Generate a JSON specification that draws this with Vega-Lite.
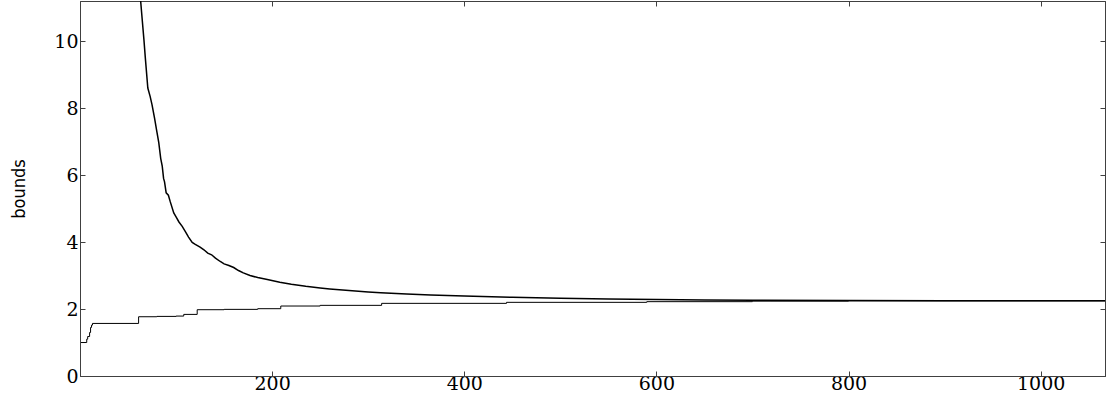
{
  "$schema": "https://vega.github.io/schema/vega-lite/v6.json",
  "width": 1025,
  "height": 375,
  "autosize": {"type": "none"},
  "padding": {"left": 80, "top": 1, "right": 1, "bottom": 24},
  "background": "white",
  "config": {
    "view": {"stroke": "#404040", "strokeWidth": 1},
    "axis": {
      "grid": false,
      "domainColor": "#404040",
      "tickColor": "#404040",
      "tickSize": -5
    }
  },
  "datasets": {
    "upper": [
      {"x": 62, "y": 11.6}, {"x": 64, "y": 10.9}, {"x": 66.5, "y": 10.06}, {"x": 68, "y": 9.5},
      {"x": 70.6, "y": 8.6}, {"x": 73, "y": 8.35}, {"x": 75, "y": 8.1}, {"x": 77.6, "y": 7.7},
      {"x": 80, "y": 7.3}, {"x": 82, "y": 6.97}, {"x": 84, "y": 6.5}, {"x": 85.6, "y": 6.27},
      {"x": 87, "y": 5.9}, {"x": 88, "y": 5.8}, {"x": 89.7, "y": 5.47}, {"x": 92, "y": 5.4},
      {"x": 94, "y": 5.2}, {"x": 97.6, "y": 4.87}, {"x": 100, "y": 4.75}, {"x": 103, "y": 4.6},
      {"x": 106.4, "y": 4.47}, {"x": 110, "y": 4.3}, {"x": 113, "y": 4.15}, {"x": 116.8, "y": 3.99},
      {"x": 120, "y": 3.93}, {"x": 125, "y": 3.85}, {"x": 129, "y": 3.77}, {"x": 133, "y": 3.67},
      {"x": 137, "y": 3.62}, {"x": 141, "y": 3.52}, {"x": 146, "y": 3.42}, {"x": 150, "y": 3.35},
      {"x": 155, "y": 3.3}, {"x": 160, "y": 3.24}, {"x": 165, "y": 3.15}, {"x": 170, "y": 3.08},
      {"x": 177, "y": 3.0}, {"x": 185, "y": 2.94}, {"x": 195, "y": 2.88}, {"x": 208, "y": 2.8},
      {"x": 220, "y": 2.74}, {"x": 235, "y": 2.68}, {"x": 250, "y": 2.63}, {"x": 260, "y": 2.6},
      {"x": 280, "y": 2.55}, {"x": 300, "y": 2.51}, {"x": 313, "y": 2.49}, {"x": 340, "y": 2.45},
      {"x": 365, "y": 2.42}, {"x": 400, "y": 2.39}, {"x": 450, "y": 2.35}, {"x": 500, "y": 2.32},
      {"x": 550, "y": 2.3}, {"x": 600, "y": 2.285}, {"x": 650, "y": 2.27}, {"x": 700, "y": 2.265},
      {"x": 800, "y": 2.255}, {"x": 900, "y": 2.25}, {"x": 1000, "y": 2.25}, {"x": 1067, "y": 2.25}
    ],
    "lower": [
      {"x": 1, "y": 1.0}, {"x": 7, "y": 1.1}, {"x": 8, "y": 1.18}, {"x": 10, "y": 1.3},
      {"x": 11, "y": 1.45}, {"x": 12, "y": 1.52}, {"x": 13, "y": 1.57}, {"x": 61, "y": 1.77},
      {"x": 80, "y": 1.78}, {"x": 100, "y": 1.79}, {"x": 108, "y": 1.84}, {"x": 122, "y": 1.98},
      {"x": 150, "y": 1.99}, {"x": 185, "y": 2.01}, {"x": 209, "y": 2.09}, {"x": 250, "y": 2.11},
      {"x": 314, "y": 2.17}, {"x": 444, "y": 2.2}, {"x": 590, "y": 2.22}, {"x": 700, "y": 2.235},
      {"x": 800, "y": 2.245}, {"x": 1067, "y": 2.25}
    ]
  },
  "layer": [
    {
      "data": {"name": "upper"},
      "mark": {"type": "line", "color": "black", "strokeWidth": 1.5, "clip": true},
      "encoding": {
        "x": {"field": "x", "type": "quantitative", "scale": {"domain": [0, 1067], "nice": false},
              "axis": {"orient": "bottom", "values": [200, 400, 600, 800, 1000], "format": "d", "title": null,
                       "labelPadding": 3, "labelFont": "DejaVu Serif", "labelFontSize": 19, "labelColor": "black"}},
        "y": {"field": "y", "type": "quantitative", "scale": {"domain": [0, 11.2], "nice": false},
              "axis": {"orient": "left", "values": [0, 2, 4, 6, 8, 10], "format": "d", "title": "bounds",
                       "labelPadding": 7, "labelFont": "DejaVu Serif", "labelFontSize": 19, "labelColor": "black",
                       "titleFont": "DejaVu Sans Condensed", "titleFontWeight": "normal", "titleFontSize": 18,
                       "titleColor": "black", "titlePadding": 25}}
      }
    },
    {
      "data": {"name": "lower"},
      "mark": {"type": "line", "color": "black", "strokeWidth": 1, "interpolate": "step-after", "clip": true},
      "encoding": {
        "x": {"field": "x", "type": "quantitative", "scale": {"domain": [0, 1067], "nice": false},
              "axis": {"orient": "top", "values": [200, 400, 600, 800, 1000], "title": null, "labels": false}},
        "y": {"field": "y", "type": "quantitative", "scale": {"domain": [0, 11.2], "nice": false},
              "axis": {"orient": "right", "values": [0, 2, 4, 6, 8, 10], "title": null, "labels": false}}
      }
    }
  ],
  "resolve": {"axis": {"x": "independent", "y": "independent"}}
}
